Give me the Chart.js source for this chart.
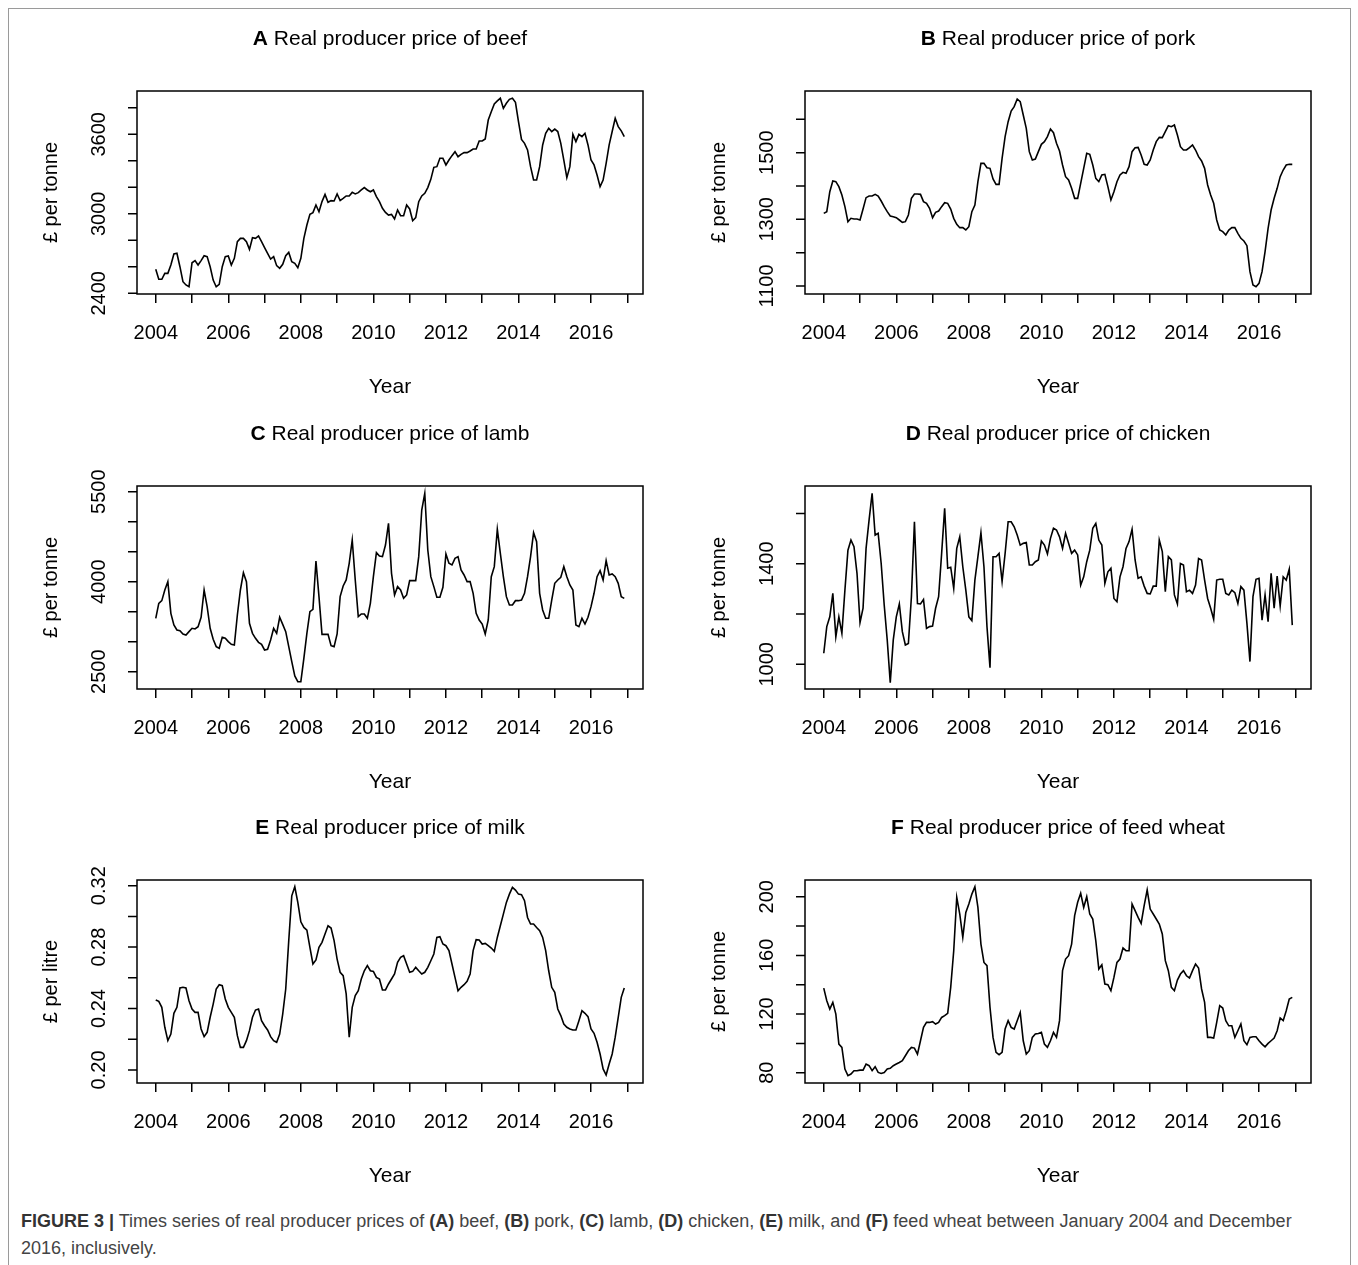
<!DOCTYPE html>
<html><head><meta charset="utf-8">
<script src="https://cdn.jsdelivr.net/npm/chart.js@4.4.1/dist/chart.umd.min.js"></script>
<style>
body{margin:0;width:1358px;height:1265px;background:#fff;position:relative;overflow:hidden;font-family:"Liberation Sans",Arial,sans-serif;}
#frame{position:absolute;left:8px;top:8px;width:1341px;height:1300px;border:1.5px solid #9a9a9a;}
.cv{position:absolute;}
#cap{position:absolute;left:21px;top:1208px;width:1310px;font-size:18px;line-height:27px;color:#444;}
#cap b{color:#333;}
</style></head><body>
<div id="frame"></div>
<div class="cv" style="left:0;top:0;width:653px;height:404px"><canvas id="cA"></canvas></div>
<div class="cv" style="left:668px;top:0;width:653px;height:404px"><canvas id="cB"></canvas></div>
<div class="cv" style="left:0;top:395px;width:653px;height:404px"><canvas id="cC"></canvas></div>
<div class="cv" style="left:668px;top:395px;width:653px;height:404px"><canvas id="cD"></canvas></div>
<div class="cv" style="left:0;top:789px;width:653px;height:404px"><canvas id="cE"></canvas></div>
<div class="cv" style="left:668px;top:789px;width:653px;height:404px"><canvas id="cF"></canvas></div>
<div id="cap"><b>FIGURE 3 |</b> Times series of real producer prices of <b>(A)</b> beef, <b>(B)</b> pork, <b>(C)</b> lamb, <b>(D)</b> chicken, <b>(E)</b> milk, and <b>(F)</b> feed wheat between January 2004 and December 2016, inclusively.</div>
<script>
const yearTicks = [2004,2005,2006,2007,2008,2009,2010,2011,2012,2013,2014,2015,2016,2017];
const yearLabels = [2004,2006,2008,2010,2012,2014,2016];

const beef = [2581,2506,2506,2551,2551,2614,2697,2702,2601,2488,2463,2450,
2631,2647,2614,2647,2684,2677,2601,2500,2450,2468,2601,2677,
2682,2614,2664,2790,2815,2815,2790,2732,2820,2815,2833,2790,
2745,2702,2659,2677,2609,2589,2619,2684,2709,2639,2626,2594,
2664,2815,2916,2996,3009,3067,3016,3092,3147,3087,3100,3097,
3150,3100,3117,3135,3135,3162,3150,3160,3180,3198,3180,3167,
3180,3130,3092,3042,3011,2991,2996,2961,3029,2986,2986,3067,
3037,2948,2971,3092,3135,3155,3198,3260,3351,3356,3419,3419,
3369,3406,3439,3469,3431,3449,3462,3462,3474,3489,3489,3550,
3550,3565,3708,3771,3829,3852,3872,3796,3834,3864,3872,3842,
3696,3562,3532,3482,3356,3255,3255,3356,3520,3608,3646,3621,
3640,3621,3532,3406,3273,3356,3600,3545,3600,3583,3608,3520,
3406,3369,3293,3205,3255,3381,3520,3621,3721,3658,3626,3583];

const pork = [1318,1323,1383,1415,1413,1398,1373,1338,1293,1303,1301,1301,
1298,1331,1365,1370,1370,1375,1370,1355,1338,1323,1310,1308,
1305,1298,1291,1293,1313,1363,1376,1376,1375,1353,1348,1333,
1305,1321,1325,1338,1350,1348,1331,1303,1285,1275,1275,1268,
1278,1323,1343,1413,1468,1468,1455,1453,1421,1405,1405,1483,
1548,1593,1625,1638,1661,1653,1613,1573,1503,1478,1481,1503,
1525,1533,1548,1571,1560,1528,1505,1463,1428,1418,1393,1363,
1363,1408,1453,1498,1495,1463,1423,1413,1433,1435,1398,1358,
1383,1413,1433,1441,1438,1458,1503,1515,1516,1493,1465,1463,
1478,1508,1533,1546,1545,1563,1581,1578,1583,1553,1518,1508,
1508,1515,1523,1508,1488,1475,1453,1403,1373,1348,1298,1268,
1263,1253,1268,1275,1275,1258,1243,1235,1221,1143,1103,1098,
1108,1143,1203,1273,1328,1363,1393,1428,1448,1463,1465,1465];

const lamb = [3389,3639,3683,3861,4000,3472,3278,3194,3183,3128,3111,3167,
3222,3211,3250,3406,3861,3583,3222,3039,2917,2889,3072,3056,
3000,2956,2944,3444,3861,4150,4000,3306,3139,3056,2989,2956,
2861,2872,3028,3222,3139,3406,3289,3167,2917,2667,2428,2333,
2333,2722,3139,3500,3539,4344,3750,3122,3122,3122,2933,2917,
3128,3750,3928,4028,4306,4694,4028,3417,3461,3461,3389,3639,
4083,4483,4428,4417,4611,4972,4139,3778,3917,3861,3722,3778,
4017,4017,4017,4417,5194,5472,4528,4083,3917,3739,3739,3906,
4461,4306,4278,4389,4417,4194,4111,4000,4000,3806,3472,3361,
3294,3128,3361,4083,4250,4872,4472,4083,3750,3611,3611,3683,
3683,3694,3806,4083,4417,4817,4667,3806,3528,3389,3389,3694,
3972,4028,4072,4250,4083,3944,3861,3278,3250,3389,3294,3406,
3583,3806,4083,4183,4028,4350,4111,4128,4083,3972,3750,3722];

const chicken = [1044,1150,1189,1282,1110,1189,1123,1295,1454,1494,1468,1362,
1166,1223,1461,1574,1680,1514,1521,1401,1236,1097,927,1097,
1189,1240,1130,1077,1083,1269,1567,1242,1240,1258,1143,1150,
1152,1223,1269,1441,1620,1382,1386,1302,1461,1507,1388,1295,
1189,1174,1335,1428,1523,1388,1150,987,1428,1428,1441,1329,
1441,1567,1567,1547,1514,1474,1481,1484,1395,1395,1408,1415,
1490,1474,1439,1501,1541,1534,1507,1461,1521,1481,1441,1454,
1435,1315,1348,1408,1454,1541,1560,1494,1474,1322,1368,1382,
1262,1249,1348,1388,1461,1488,1537,1415,1342,1348,1311,1282,
1280,1311,1311,1494,1448,1289,1428,1415,1276,1240,1401,1395,
1289,1295,1282,1315,1421,1415,1335,1262,1223,1179,1335,1338,
1338,1282,1276,1295,1285,1242,1309,1295,1163,1011,1269,1338,
1342,1176,1276,1170,1362,1223,1351,1232,1348,1335,1378,1156];

const milk = [0.2456,0.2447,0.2408,0.2278,0.2191,0.2234,0.2369,0.2408,0.2534,0.2538,0.2534,0.2451,
0.2397,0.2375,0.2375,0.2267,0.2217,0.2245,0.2343,0.2429,0.2527,0.2555,0.2549,0.2462,
0.2408,0.2375,0.2343,0.2223,0.2147,0.2147,0.2191,0.2256,0.2343,0.2390,0.2397,0.2321,
0.2288,0.2260,0.2217,0.2191,0.2180,0.2234,0.2364,0.2527,0.2842,0.3134,0.3193,0.3091,
0.2965,0.2928,0.2911,0.2798,0.2690,0.2716,0.2798,0.2831,0.2885,0.2939,0.2924,0.2842,
0.2722,0.2636,0.2614,0.2495,0.2213,0.2408,0.2484,0.2516,0.2592,0.2646,0.2679,0.2646,
0.2642,0.2603,0.2592,0.2521,0.2521,0.2560,0.2592,0.2625,0.2701,0.2733,0.2744,0.2690,
0.2636,0.2642,0.2668,0.2646,0.2625,0.2636,0.2668,0.2711,0.2755,0.2863,0.2868,0.2820,
0.2809,0.2777,0.2690,0.2603,0.2516,0.2538,0.2555,0.2577,0.2625,0.2777,0.2848,0.2846,
0.2820,0.2824,0.2809,0.2794,0.2772,0.2863,0.2939,0.3015,0.3091,0.3145,0.3189,0.3171,
0.3145,0.3141,0.3102,0.2993,0.2950,0.2950,0.2928,0.2907,0.2863,0.2777,0.2646,0.2538,
0.2505,0.2397,0.2354,0.2299,0.2278,0.2267,0.2260,0.2260,0.2321,0.2386,0.2369,0.2347,
0.2267,0.2239,0.2180,0.2104,0.2007,0.1967,0.2039,0.2104,0.2213,0.2343,0.2473,0.2534];

const wheat = [137.7,129.1,123.4,128.0,120.0,99.5,97.3,82.5,78.0,79.1,81.4,81.4,
81.8,81.8,85.9,84.8,81.4,84.1,80.2,79.5,80.2,82.5,83.0,84.8,
85.9,87.0,88.2,91.6,95.0,97.3,96.8,92.7,101.8,110.9,114.3,114.3,
114.8,113.2,114.3,117.7,118.9,120.5,138.2,163.2,199.6,188.2,172.3,189.3,
195.0,201.8,206.8,192.7,167.7,155.2,153.0,124.6,104.1,93.9,92.3,93.9,
109.8,115.5,110.9,109.8,115.5,121.1,101.8,92.7,95.0,104.1,106.4,106.8,
107.5,99.5,97.3,101.8,107.5,104.1,115.5,149.6,157.5,159.8,167.7,187.1,
196.2,202.3,192.7,200.0,188.2,184.8,170.0,150.7,153.6,140.5,140.0,135.9,
145.0,155.2,157.5,165.0,163.2,163.2,195.0,190.5,185.9,181.8,193.9,204.6,
191.6,188.2,184.8,181.4,174.6,156.4,149.6,138.2,135.9,143.2,147.3,149.6,
146.1,144.6,149.6,154.1,151.4,137.1,128.0,104.1,104.1,103.6,114.3,125.7,
124.1,115.5,112.0,112.0,104.1,108.6,113.2,101.8,99.1,104.1,104.5,104.5,
101.8,99.5,97.7,100.0,101.8,103.6,108.6,117.3,115.5,122.3,130.2,131.4];

const panels = [
 {id:'cA', letter:'A', title:'Real producer price of beef', ylab:'£ per tonne', data:beef, min:2395, max:3927, ticks:[2400,2600,2800,3000,3200,3400,3600,3800], labels:[2400,3000,3600]},
 {id:'cB', letter:'B', title:'Real producer price of pork', ylab:'£ per tonne', data:pork, min:1076, max:1685, ticks:[1100,1200,1300,1400,1500,1600], labels:[1100,1300,1500]},
 {id:'cC', letter:'C', title:'Real producer price of lamb', ylab:'£ per tonne', data:lamb, min:2211, max:5594, ticks:[2500,3000,3500,4000,4500,5000,5500], labels:[2500,4000,5500]},
 {id:'cD', letter:'D', title:'Real producer price of chicken', ylab:'£ per tonne', data:chicken, min:902, max:1709, ticks:[1000,1200,1400,1600], labels:[1000,1400]},
 {id:'cE', letter:'E', title:'Real producer price of milk', ylab:'£ per litre', data:milk, min:0.1915, max:0.3237, ticks:[0.20,0.22,0.24,0.26,0.28,0.30,0.32], labels:[0.20,0.24,0.28,0.32], dec:2},
 {id:'cF', letter:'F', title:'Real producer price of feed wheat', ylab:'£ per tonne', data:wheat, min:73, max:211.4, ticks:[80,100,120,140,160,180,200], labels:[80,120,160,200]}
];

const FONT = '"Liberation Sans", Arial, sans-serif';

const decor = {
  id:'decor',
  afterDraw(chart, args, o){
    const ctx = chart.ctx, a = chart.chartArea, p = o.panel, ys = chart.scales.y;
    ctx.save();
    ctx.strokeStyle = '#000'; ctx.lineWidth = 1.5;
    ctx.strokeRect(a.left, a.top, a.right - a.left, a.bottom - a.top);
    ctx.beginPath();
    p.ticks.forEach(v => { const y = ys.getPixelForValue(v); ctx.moveTo(a.left - 9, y); ctx.lineTo(a.left, y); });
    ctx.stroke();
    ctx.fillStyle = '#000';
    ctx.font = '20px ' + FONT;
    ctx.textAlign = 'center'; ctx.textBaseline = 'middle';
    p.labels.forEach(v => {
      const y = ys.getPixelForValue(v);
      ctx.save(); ctx.translate(a.left - 38, y); ctx.rotate(-Math.PI/2);
      ctx.fillText(p.dec ? v.toFixed(p.dec) : String(v), 0, 0); ctx.restore();
    });
    ctx.save(); ctx.translate(a.left - 86, (a.top + a.bottom)/2); ctx.rotate(-Math.PI/2);
    ctx.fillText(p.ylab, 0, 0); ctx.restore();
    const cx = (a.left + a.right)/2, ty = a.top - 52;
    ctx.font = 'bold 21px ' + FONT; const wb = ctx.measureText(p.letter + ' ').width;
    ctx.font = '21px ' + FONT; const wr = ctx.measureText(p.title).width;
    const x0 = cx - (wb + wr)/2;
    ctx.textAlign = 'left';
    ctx.font = 'bold 21px ' + FONT; ctx.fillText(p.letter + ' ', x0, ty);
    ctx.font = '21px ' + FONT; ctx.fillText(p.title, x0 + wb, ty);
    ctx.restore();
  }
};

panels.forEach(p => {
  const pts = p.data.map((v, i) => ({x: 2004 + i/12, y: v}));
  new Chart(document.getElementById(p.id), {
    type:'line',
    data:{datasets:[{data:pts, borderColor:'#000', borderWidth:1.6, pointRadius:0, tension:0, fill:false}]},
    options:{
      responsive:true, maintainAspectRatio:false, animation:false,
      layout:{padding:{top:91, right:10, left:0, bottom:0}},
      plugins:{legend:{display:false}, tooltip:{enabled:false}, decor:{panel:p}},
      scales:{
        x:{type:'linear', min:2003.483, max:2017.433,
           afterBuildTicks(s){ s.ticks = yearTicks.map(v => ({value:v})); },
           afterFit(s){ s.height = 110; },
           border:{display:false},
           grid:{drawOnChartArea:false, drawTicks:true, tickLength:9, color:'#000', lineWidth:1.5},
           ticks:{autoSkip:false, maxRotation:0, minRotation:0, padding:18, color:'#000', font:{family:FONT, size:20},
                  callback:(v) => yearLabels.includes(v) ? String(v) : ''},
           title:{display:true, text:'Year', color:'#000', font:{family:FONT, size:21}, padding:{top:14}}
        },
        y:{type:'linear', min:p.min, max:p.max,
           afterFit(s){ s.width = 137; },
           border:{display:false}, grid:{display:false}, ticks:{display:false}
        }
      }
    },
    plugins:[decor]
  });
});
</script>
</body></html>
